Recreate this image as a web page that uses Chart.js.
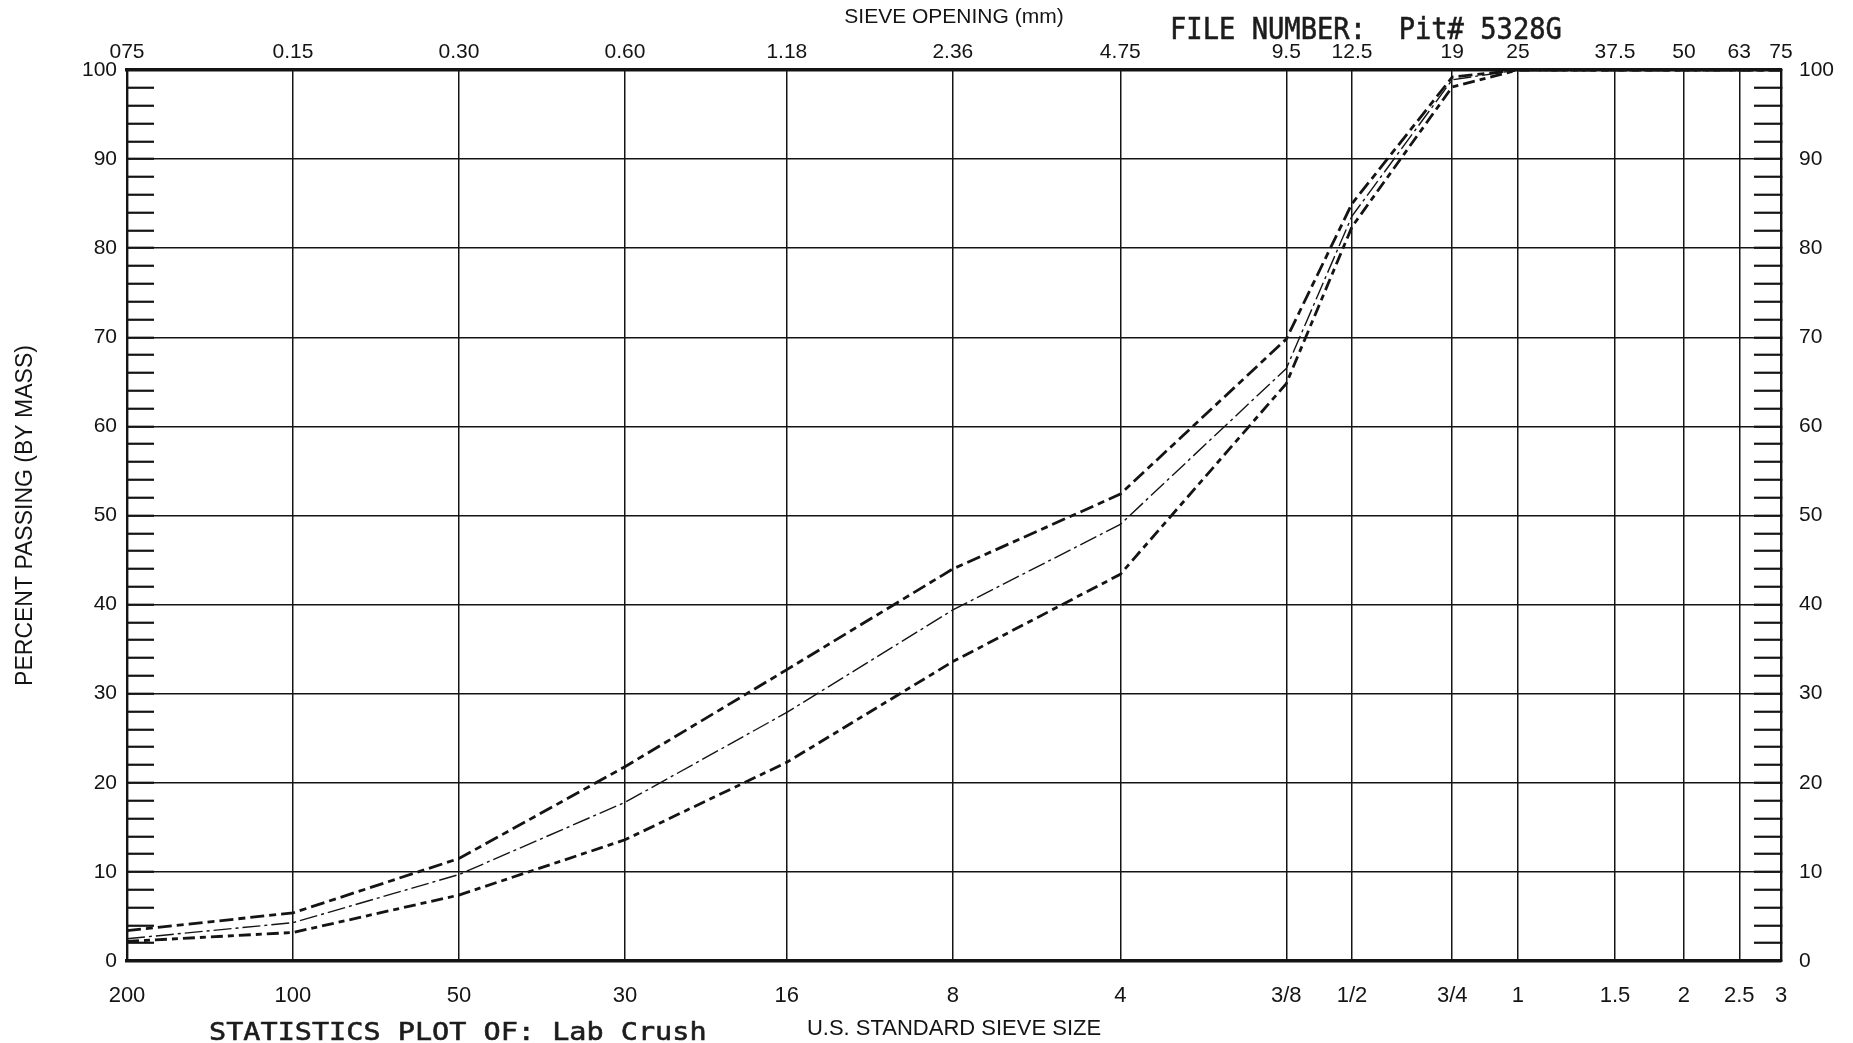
<!DOCTYPE html>
<html>
<head>
<meta charset="utf-8">
<title>Statistics Plot - Lab Crush</title>
<script src="https://cdn.jsdelivr.net/npm/chart.js@4.4.1/dist/chart.umd.min.js"></script>
<style>
  html, body { margin: 0; padding: 0; background: #fff; }
  #wrap { width: 1853px; height: 1043px; position: relative; }
</style>
</head>
<body>
<div id="wrap"><canvas id="gradationChart"></canvas></div>
<script>
// sieve openings (mm) with the labels printed on the top and bottom axes
const sieveMm = [0.075, 0.15, 0.30, 0.60, 1.18, 2.36, 4.75, 9.5, 12.5, 19, 25, 37.5, 50, 63, 75];
const mmLabels = ["075", "0.15", "0.30", "0.60", "1.18", "2.36", "4.75", "9.5", "12.5", "19", "25", "37.5", "50", "63", "75"];
const usSieveLabels = ["200", "100", "50", "30", "16", "8", "4", "3/8", "1/2", "3/4", "1", "1.5", "2", "2.5", "3"];

// percent passing
const upperPassing = [3.4, 5.4, 11.5, 21.8, 32.7, 44.0, 52.4, 69.8, 85.0, 99.2, 100, 100, 100, 100, 100];
const meanPassing  = [2.5, 4.3, 9.7, 17.8, 27.9, 39.4, 49.0, 66.5, 83.6, 98.9, 100, 100, 100, 100, 100];
const lowerPassing = [2.2, 3.2, 7.4, 13.6, 22.3, 33.6, 43.4, 64.8, 82.4, 98.1, 100, 100, 100, 100, 100];

// percent axis: minor tick every 2, label + grid line every 10
const percentMin = 0;
const percentMax = 100;
const percentStep = 2;
const percentLabelStep = 10;

const ink = "#141414";
const sansFont = "'Liberation Sans', Arial, sans-serif";
const monoFont = "'DejaVu Sans Mono', monospace";

function toPoints(values) {
    return sieveMm.map((mm, i) => ({ x: mm, y: values[i] }));
}

function useSieveTicks(scale) {
    scale.ticks = sieveMm.map(v => ({ value: v }));
}

function percentLabel(value) {
    return value % percentLabelStep === 0 ? String(value) : "";
}

// plotter-style captions, stretched a bit to match the scan
function drawCaption(ctx, text, x, y, size, stretch) {
    ctx.save();
    ctx.translate(x, y);
    ctx.scale(stretch, 1);
    ctx.font = size + "px " + monoFont;
    ctx.fillStyle = "#1c1c1c";
    ctx.strokeStyle = "#1c1c1c";
    ctx.lineWidth = 0.6;
    ctx.textBaseline = "alphabetic";
    ctx.textAlign = "left";
    ctx.fillText(text, 0, 0);
    ctx.strokeText(text, 0, 0);
    ctx.restore();
}

const captionsPlugin = {
    id: "captions",
    afterDraw(chart) {
        const ctx = chart.ctx;
        drawCaption(ctx, "FILE NUMBER:  Pit# 5328G", 1170, 39, 31, 0.875);
        drawCaption(ctx, "STATISTICS PLOT OF: Lab Crush", 209, 1040, 25, 1.14);
    }
};

const percentAxis = (position) => ({
    type: "linear",
    position: position,
    min: percentMin,
    max: percentMax,
    afterFit(scale) {
        scale.width = position === "left" ? 127 : 72;
    },
    ticks: {
        stepSize: percentStep,
        autoSkip: false,
        padding: position === "left" ? 37 : 45,
        color: ink,
        font: { family: sansFont, size: 21 },
        callback: percentLabel,
    },
    grid: {
        drawOnChartArea: position === "left",
        color: (c) => (c.tick && c.tick.value % percentLabelStep === 0 ? ink : "rgba(0,0,0,0)"),
        lineWidth: 1.5,
        drawTicks: true,
        tickLength: -27,
        tickColor: ink,
        tickWidth: 2.2,
    },
    border: { display: true, color: ink, width: 2.4 },
    title: position === "left" ? {
        display: true,
        text: "PERCENT PASSING (BY MASS)",
        color: ink,
        font: { family: sansFont, size: 23 },
        padding: { top: 12, bottom: 0 },
    } : { display: false },
});

new Chart(document.getElementById("gradationChart"), {
    type: "line",
    data: {
        datasets: [
            {
                label: "Upper",
                data: toPoints(upperPassing),
                borderColor: ink,
                borderWidth: 2.8,
                borderDash: [14, 5, 7, 5],
                pointRadius: 0,
                tension: 0,
                clip: 4,
            },
            {
                label: "Lower",
                data: toPoints(lowerPassing),
                borderColor: ink,
                borderWidth: 2.8,
                borderDash: [12, 5, 6, 5],
                pointRadius: 0,
                tension: 0,
                clip: 4,
            },
            {
                label: "Mean",
                data: toPoints(meanPassing),
                borderColor: ink,
                borderWidth: 1.4,
                borderDash: [18, 4, 3, 4],
                pointRadius: 0,
                tension: 0,
                clip: 4,
            },
        ],
    },
    options: {
        responsive: true,
        maintainAspectRatio: false,
        animation: false,
        layout: { padding: 0 },
        plugins: {
            legend: { display: false },
            tooltip: { enabled: false },
        },
        scales: {
            x: {
                type: "logarithmic",
                position: "bottom",
                min: sieveMm[0],
                max: sieveMm[sieveMm.length - 1],
                afterBuildTicks: useSieveTicks,
                afterFit(scale) { scale.height = 82; },
                ticks: {
                    autoSkip: false,
                    maxRotation: 0,
                    minRotation: 0,
                    padding: 22,
                    color: ink,
                    font: { family: sansFont, size: 22 },
                    callback: (v, i) => usSieveLabels[i],
                },
                grid: { color: ink, lineWidth: 1.5, drawTicks: false },
                border: { display: true, color: ink, width: 3.6 },
                title: {
                    display: true,
                    text: "U.S. STANDARD SIEVE SIZE",
                    color: ink,
                    font: { family: sansFont, size: 22 },
                    padding: { top: 0, bottom: 1 },
                },
            },
            xTop: {
                type: "logarithmic",
                position: "top",
                min: sieveMm[0],
                max: sieveMm[sieveMm.length - 1],
                afterBuildTicks: useSieveTicks,
                afterFit(scale) { scale.height = 70; },
                ticks: {
                    autoSkip: false,
                    maxRotation: 0,
                    minRotation: 0,
                    padding: 5,
                    color: ink,
                    font: { family: sansFont, size: 21 },
                    callback: (v, i) => mmLabels[i],
                },
                grid: { drawOnChartArea: false, drawTicks: false },
                border: { display: true, color: ink, width: 3.6 },
                title: {
                    display: true,
                    text: "SIEVE OPENING (mm)",
                    color: ink,
                    font: { family: sansFont, size: 21 },
                    padding: { top: 5, bottom: 0 },
                },
            },
            y: percentAxis("left"),
            yRight: percentAxis("right"),
        },
    },
    plugins: [captionsPlugin],
});
</script>
</body>
</html>
